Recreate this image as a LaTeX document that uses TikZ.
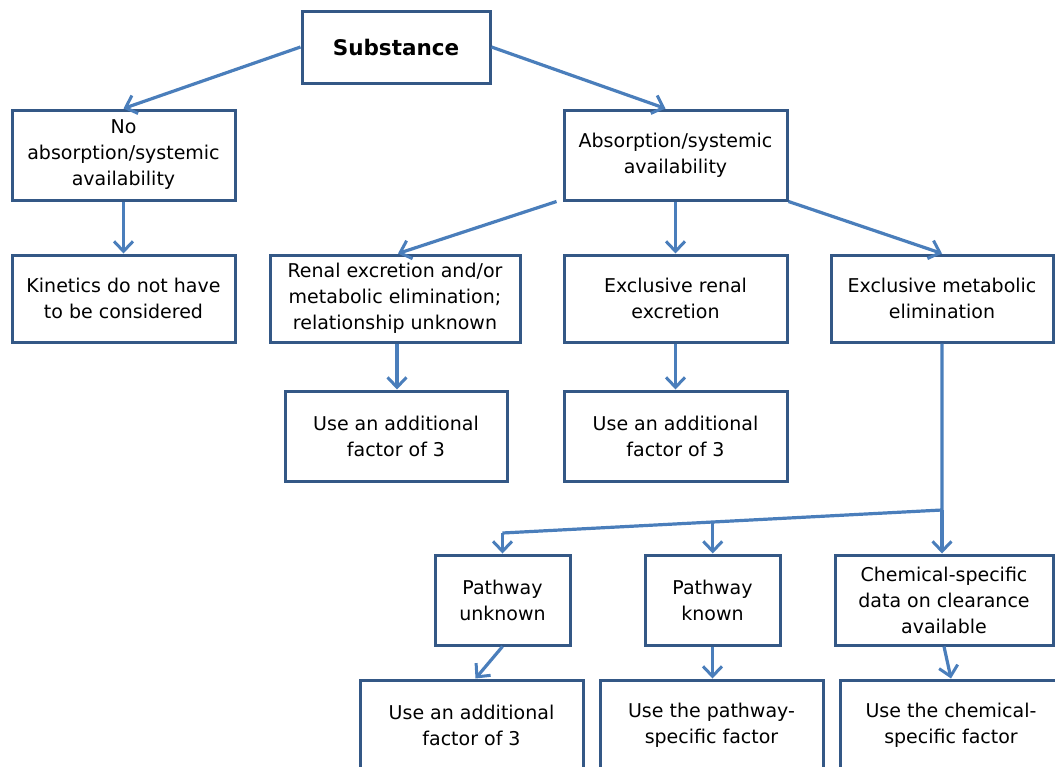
\documentclass[tikz,border=0pt]{standalone}
\usepackage{fontspec}
\setmainfont{DejaVu Sans}
\usetikzlibrary{arrows.meta}

\definecolor{boxline}{RGB}{52,88,134}
\definecolor{flow}{RGB}{74,126,187}

\begin{document}
\begin{tikzpicture}[x=1pt,y=-1pt,
    box/.style={draw=boxline, line width=3pt, align=center, inner sep=0pt,
        font=\fontsize{19}{26}\selectfont},
    flowarrow/.style={draw=flow, line width=3.2pt,
        -{Straight Barb[length=10pt,width=19pt,line width=3pt]}}]
    \useasboundingbox (0,0) rectangle (1055,766);
    \clip (0,0) rectangle (1055,766);

    \node[box, minimum width=188pt, minimum height=72pt, font=\fontsize{21.5}{26}\selectfont\bfseries] (subst) at (396,47) {Substance};

    \node[box, minimum width=223pt, minimum height=90pt] (noabs) at (123.5,155) {No\\absorption/systemic\\availability};
    \node[box, minimum width=223pt, minimum height=90pt] (abs) at (675.5,155) {Absorption/systemic\\availability};

    \node[box, minimum width=223pt, minimum height=87pt] (kin) at (123.5,298.5) {Kinetics do not have\\to be considered};
    \node[box, minimum width=250pt, minimum height=87pt] (renal) at (395,298.5) {Renal excretion and/or\\metabolic elimination;\\relationship unknown};
    \node[box, minimum width=223pt, minimum height=87pt] (exren) at (675.5,298.5) {Exclusive renal\\excretion};
    \node[box, minimum width=222pt, minimum height=87pt] (exmet) at (942,298.5) {Exclusive metabolic\\elimination};

    \node[box, minimum width=222pt, minimum height=90pt] (fac1) at (396,436) {Use an additional\\factor of 3};
    \node[box, minimum width=223pt, minimum height=90pt] (fac2) at (675.5,436) {Use an additional\\factor of 3};

    \node[box, minimum width=135pt, minimum height=90pt] (pwu) at (502.5,600) {Pathway\\unknown};
    \node[box, minimum width=135pt, minimum height=90pt] (pwk) at (712.5,600) {Pathway\\known};
    \node[box, minimum width=218pt, minimum height=90pt] (chem) at (944,600) {Chemical-specific\\data on clearance\\available};

    \node[box, minimum width=223pt, minimum height=90pt] (fac3) at (471.5,725) {Use an additional\\factor of 3};
    \node[box, minimum width=223pt, minimum height=90pt] (pwf) at (711.5,725) {Use the pathway-\\specific factor};
    \node[box, minimum width=222pt, minimum height=90pt] (chf) at (951,725) {Use the chemical-\\specific factor};

    \draw[flowarrow] (subst.west) -- (noabs.north);
    \draw[flowarrow] (subst.east) -- ([xshift=-10pt]abs.north);
    \draw[flowarrow] (noabs.south) -- (kin.north);
    \draw[flowarrow] ([xshift=-6pt]abs.south west) -- ([xshift=3pt]renal.north);
    \draw[flowarrow] (abs.south) -- (exren.north);
    \draw[flowarrow] (abs.south east) -- (exmet.north);
    \draw[flowarrow] ([xshift=2pt]renal.south) -- ([xshift=2pt]renal.south |- fac1.north);
    \draw[flowarrow] (exren.south) -- (fac2.north);

    \coordinate (split) at (942,510);
    \coordinate (bend) at (502.5,533);
    \draw[draw=flow, line width=3.2pt] (exmet.south) -- (split) -- coordinate[pos=0.5216] (mid) (bend);
    \draw[flowarrow] (split) -- (split |- chem.north);
    \draw[flowarrow] (bend) -- (pwu.north);
    \draw[flowarrow] (mid) -- (mid |- pwk.north);

    \draw[flowarrow] (pwu.south) -- ([xshift=4pt]fac3.north);
    \draw[flowarrow] (pwk.south) -- (pwk.south |- pwf.north);
    \draw[flowarrow] (chem.south) -- (chf.north);
\end{tikzpicture}
\end{document}
